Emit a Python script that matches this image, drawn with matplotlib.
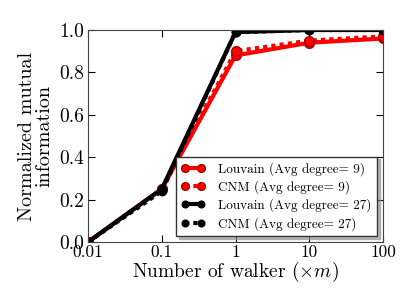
import matplotlib
matplotlib.use("Agg")
import matplotlib.pyplot as plt
import numpy as np

plt.rcParams['font.family'] = 'serif'
plt.rcParams['font.serif'] = ['cmr10']
plt.rcParams['mathtext.fontset'] = 'cm'
plt.rcParams['axes.formatter.use_mathtext'] = True

walkers = [0.01, 0.1, 1, 10, 100]
tick_labels = ['0.01', '0.1', '1', '10', '100']
y_ticks = [0.0, 0.2, 0.4, 0.6, 0.8, 1.0]
y_tick_labels = ['0.0', '0.2', '0.4', '0.6', '0.8', '1.0']
louvain9 = [0.0, 0.25, 0.88, 0.94, 0.96]
cnm9 = [0.0, 0.25, 0.90, 0.95, 0.97]
louvain27 = [0.0, 0.25, 0.99, 1.0, 1.0]
cnm27 = [0.0, 0.24, 0.99, 1.0, 1.0]

dotted = (0, (1.0, 1.0))

fig = plt.figure(figsize=(4.15, 3.0), dpi=100)
ax = fig.add_axes([88/415, 1-242/300, (383-88)/415, (242-30)/300])

ax.plot(walkers, louvain9, '-o', color='red', lw=3, ms=7, mec='#aa0000', label='Louvain (Avg degree= 9)')
ax.plot(walkers, cnm9, marker='o', ls=dotted, color='red', lw=3, ms=7, mec='#aa0000', label='CNM (Avg degree= 9)')
ax.plot(walkers, louvain27, '-o', color='black', lw=3, ms=6, label='Louvain (Avg degree= 27)')
ax.plot(walkers, cnm27, marker='o', ls=dotted, color='black', lw=3, ms=6, label='CNM (Avg degree= 27)')

ax.set_xscale('log')
ax.set_xlim(0.01, 100)
ax.set_ylim(0, 1.0)
ax.set_xticks(walkers)
ax.set_xticklabels(tick_labels)
ax.xaxis.set_minor_locator(matplotlib.ticker.NullLocator())
ax.set_yticks(y_ticks)
ax.set_yticklabels(y_tick_labels)
ax.tick_params(direction='in', top=True, right=True, length=5)
ax.tick_params(axis='x', labelsize=12.5, pad=2)
ax.tick_params(axis='y', labelsize=14, pad=3)
for s in ax.spines.values():
    s.set_color('#444444')
ax.set_xlabel(r'Number of walker ($\times m$)', fontsize=14, labelpad=0)
ax.set_ylabel('Normalized mutual\ninformation', fontsize=14.5, labelpad=4, linespacing=0.95)

leg = ax.legend(loc='lower right', fontsize=9.5, fancybox=False, framealpha=1,
                edgecolor='#333333', handlelength=1.8, borderaxespad=0.45,
                numpoints=2, labelspacing=0.35, handletextpad=1.0,
                borderpad=0.4, markerscale=0.8,
                shadow={'color': '0.55', 'alpha': 0.6})
leg.get_frame().set_linewidth(1.0)

fig.savefig('out.png', dpi=100)
